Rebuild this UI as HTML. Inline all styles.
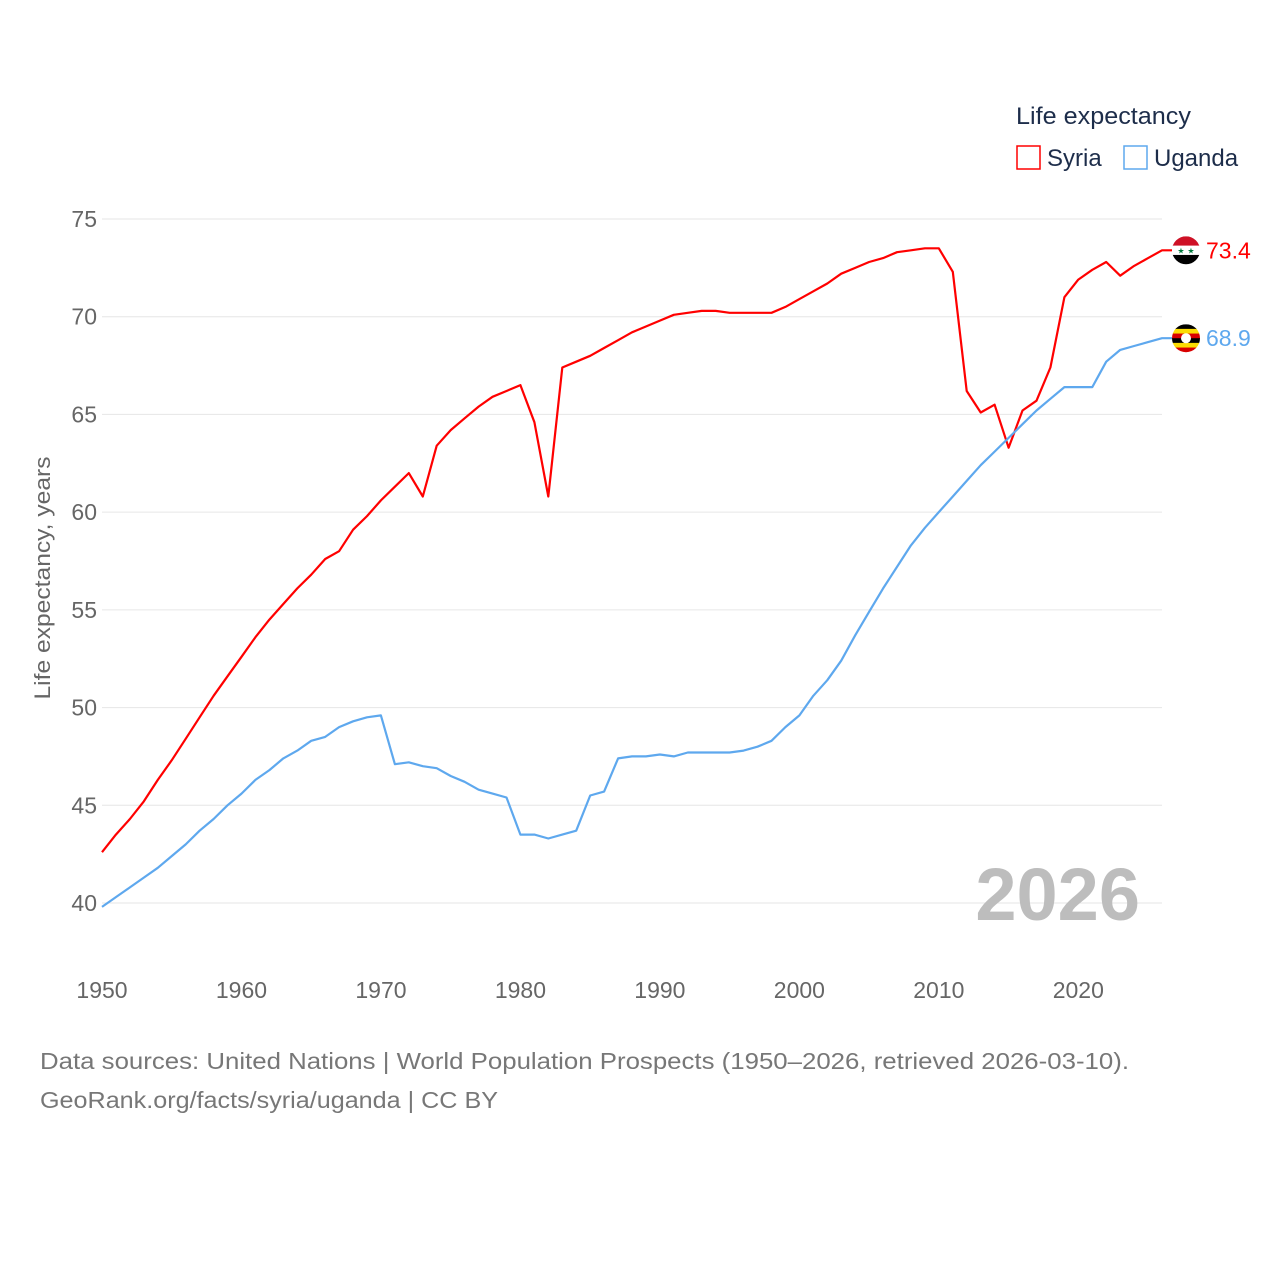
<!DOCTYPE html>
<html><head><meta charset="utf-8"><style>
body{margin:0;background:#fff;}
svg{display:block;font-family:"Liberation Sans",sans-serif;}
</style></head><body>
<svg id="chart" width="1280" height="1280" viewBox="0 0 1280 1280">
<g id="grid"></g>
<g id="yticks"></g>
<g id="xticks"></g>
<text transform="translate(50,578) rotate(-90)" text-anchor="middle" font-size="22" fill="#666" textLength="243" lengthAdjust="spacingAndGlyphs">Life expectancy, years</text>
<text x="1140" y="920" text-anchor="end" font-size="74" font-weight="bold" fill="#bdbdbd">2026</text>
<g id="series"></g>
<g>
<text x="1016" y="124" font-size="24" fill="#1d2d4a" textLength="175" lengthAdjust="spacingAndGlyphs">Life expectancy</text>
<rect x="1017" y="146" width="23" height="23" fill="none" stroke="#ff0000" stroke-width="1.5"/>
<text x="1047" y="166" font-size="24" fill="#1d2d4a">Syria</text>
<rect x="1124" y="146" width="23" height="23" fill="none" stroke="#5ea8ee" stroke-width="1.5"/>
<text x="1154" y="166" font-size="24" fill="#1d2d4a">Uganda</text>
</g>
<text x="40" y="1069" font-size="23" fill="#777" textLength="1089" lengthAdjust="spacingAndGlyphs">Data sources: United Nations | World Population Prospects (1950–2026, retrieved 2026-03-10).</text>
<text x="40" y="1108" font-size="23" fill="#777" textLength="458" lengthAdjust="spacingAndGlyphs">GeoRank.org/facts/syria/uganda | CC BY</text>
</svg>
<script>
const years = [];
for (let y = 1950; y <= 2026; y++) years.push(y);
const syria = [42.6,43.5,44.3,45.2,46.3,47.3,48.4,49.5,50.6,51.6,52.6,53.6,54.5,55.3,56.1,56.8,57.6,58.0,59.1,59.8,60.6,61.3,62.0,60.8,63.4,64.2,64.8,65.4,65.9,66.2,66.5,64.6,60.8,67.4,67.7,68.0,68.4,68.8,69.2,69.5,69.8,70.1,70.2,70.3,70.3,70.2,70.2,70.2,70.2,70.5,70.9,71.3,71.7,72.2,72.5,72.8,73.0,73.3,73.4,73.5,73.5,72.3,66.2,65.1,65.5,63.3,65.2,65.7,67.4,71.0,71.9,72.4,72.8,72.1,72.6,73.0,73.4];
const uganda = [39.8,40.3,40.8,41.3,41.8,42.4,43.0,43.7,44.3,45.0,45.6,46.3,46.8,47.4,47.8,48.3,48.5,49.0,49.3,49.5,49.6,47.1,47.2,47.0,46.9,46.5,46.2,45.8,45.6,45.4,43.5,43.5,43.3,43.5,43.7,45.5,45.7,47.4,47.5,47.5,47.6,47.5,47.7,47.7,47.7,47.7,47.8,48.0,48.3,49.0,49.6,50.6,51.4,52.4,53.7,54.9,56.1,57.2,58.3,59.2,60.0,60.8,61.6,62.4,63.1,63.8,64.5,65.2,65.8,66.4,66.4,66.4,67.7,68.3,68.5,68.7,68.9];
const yTicks = [40,45,50,55,60,65,70,75];
const xTicks = [1950,1960,1970,1980,1990,2000,2010,2020];

const NS = "http://www.w3.org/2000/svg";
const X0 = 102, X1 = 1162, Y0 = 903, Y1 = 219;
const xs = yr => X0 + (yr - 1950) * (X1 - X0) / 76;
const ys = v => Y0 - (v - 40) * (Y0 - Y1) / 35;
function mk(tag, attrs, parent) { const e = document.createElementNS(NS, tag); for (const k in attrs) e.setAttribute(k, attrs[k]); parent.appendChild(e); return e; }

const grid = document.getElementById('grid'), yt = document.getElementById('yticks'), xt = document.getElementById('xticks'), ser = document.getElementById('series');
yTicks.forEach(v => {
  const l = mk('line', {x1: X0, x2: X1, y1: ys(v), y2: ys(v), stroke: '#e6e6e6', 'stroke-width': 1}, grid);
  
  
  const t = mk('text', {x: 97, y: ys(v) + 8, 'text-anchor': 'end', 'font-size': 23, fill: '#666'}, yt);
  t.textContent = v;
  
  
});
xTicks.forEach(v => {
  const t = mk('text', {x: xs(v), y: 998, 'text-anchor': 'middle', 'font-size': 23, fill: '#666'}, xt);
  t.textContent = v;
  
  
});
function line(data, color, name) {
  const d = data.map((v, i) => (i ? 'L' : 'M') + xs(years[i]).toFixed(1) + ',' + ys(v).toFixed(1)).join('') + 'h10';
  const p = mk('path', {d: d, fill: 'none', stroke: color, 'stroke-width': 2.2, 'stroke-linejoin': 'round'}, ser);
  
  
}
line(syria, '#ff0000', 'syria-line');
line(uganda, '#5ea8ee', 'uganda-line');

function flag(cx, cy, stripes, id, name) {
  const g = mk('g', {}, ser);
  
  
  const cp = mk('clipPath', {id: id}, g);
  mk('circle', {cx: cx, cy: cy, r: 14}, cp);
  const gg = mk('g', {'clip-path': 'url(#' + id + ')'}, g);
  const h = 28 / stripes.length;
  stripes.forEach((c, i) => mk('rect', {x: cx - 14, y: cy - 14 + i * h, width: 28, height: h + 0.5, fill: c}, gg));
  return gg;
}
const last = years.length - 1;
const sy = ys(syria[last]), uy = ys(uganda[last]);
const fs = flag(1186, sy, ['#ce1126', '#ffffff', '#000000'], 'cs', 'syria-flag');
[-5, 5].forEach(dx => { const s = mk('text', {x: 1186 + dx, y: sy + 3, 'text-anchor': 'middle', 'font-size': 8, fill: '#007a3d'}, fs); s.textContent = '★'; });
const fu = flag(1186, uy, ['#000', '#fcdc04', '#d90000', '#000', '#fcdc04', '#d90000'], 'cu', 'uganda-flag');
mk('circle', {cx: 1186, cy: uy, r: 5, fill: '#fff'}, fu);
const l1 = mk('text', {x: 1206, y: sy + 8, 'font-size': 23, fill: '#ff0000'}, ser);
l1.textContent = syria[last].toFixed(1);


const l2 = mk('text', {x: 1206, y: uy + 8, 'font-size': 23, fill: '#5ea8ee'}, ser);
l2.textContent = uganda[last].toFixed(1);


</script>
</body></html>
